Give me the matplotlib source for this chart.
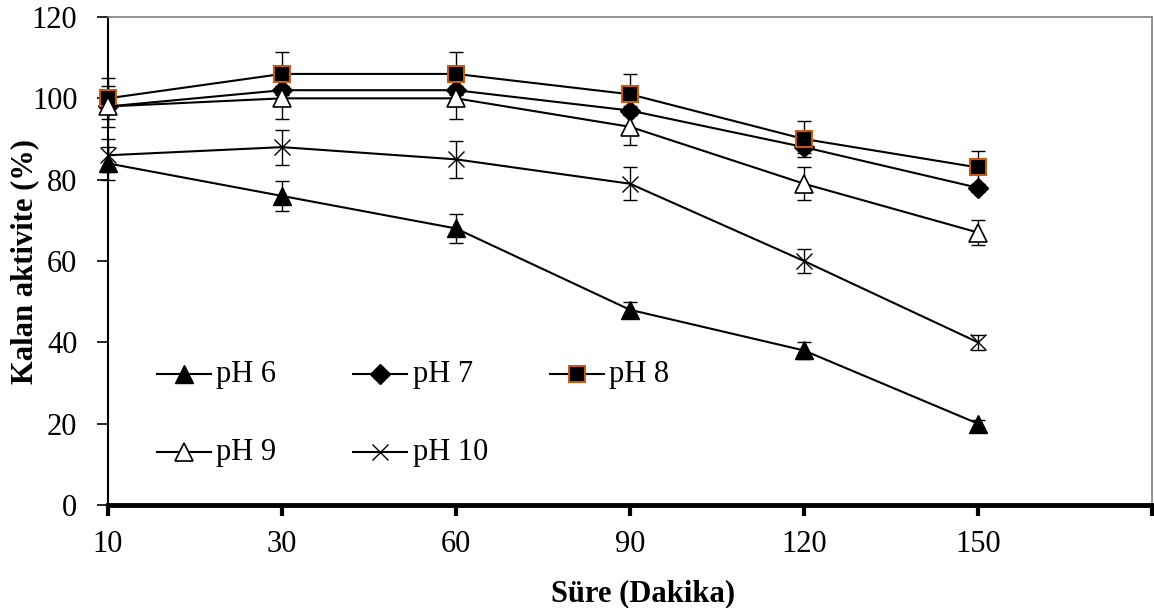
import numpy as np
import matplotlib
matplotlib.use('Agg')
import matplotlib.pyplot as plt

# -------------------------------------------------------
# Veriler
# -------------------------------------------------------
sure = ['10', '30', '60', '90', '120', '150']

ph6 = [84, 76, 68, 48, 38, 20]
ph6_err = [4, 3.7, 3.5, 2, 2, 1]

ph7 = [98, 102, 102, 97, 88, 78]
ph7_err = [1, 1, 1, 1, 1.5, 1]

ph8 = [100, 106, 106, 101, 90, 83]
ph8_err = [5, 5.3, 5.3, 5, 4.5, 4]

ph9 = [98, 100, 100, 93, 79, 67]
ph9_err = [5, 5, 5, 4.5, 4, 3]

ph10 = [86, 88, 85, 79, 60, 40]
ph10_err = [4, 4.3, 4.5, 4, 3, 1.8]

labels = ['pH 6', 'pH 7', 'pH 8', 'pH 9', 'pH 10']

# -------------------------------------------------------
# Stil
# -------------------------------------------------------
plt.rcParams['font.family'] = ['Liberation Serif', 'DejaVu Serif']
FS = 22

styles = [
    dict(marker='^', ms=13, mfc='black', mec='black', mew=1),
    dict(marker='D', ms=10, mfc='black', mec='black', mew=1),
    dict(marker='s', ms=12, mfc='black', mec='#C55A11', mew=1.5),
    dict(marker='^', ms=13, mfc='white', mec='black', mew=1.2),
    dict(marker='x', ms=12, mfc='none', mec='black', mew=1.0),
]

fig = plt.figure(figsize=(11.54, 6.08), dpi=100)
ax = fig.add_axes([108 / 1154, 1 - 505 / 608, 1044 / 1154, 488 / 608])

x = np.arange(len(sure))
series = [(ph6, ph6_err), (ph7, ph7_err), (ph8, ph8_err), (ph9, ph9_err), (ph10, ph10_err)]

for (vals, errs), st in zip(series, styles):
    ax.errorbar(x, vals, yerr=errs, fmt='none', ecolor='black', elinewidth=1.0,
                capsize=4.7, capthick=1.0, clip_on=False, zorder=2)
    ax.plot(x, vals, color='black', lw=1.5, clip_on=False, zorder=3, **st)

# Eksenler
ax.set_xlim(0, 6)
ax.set_ylim(0, 120)
ax.set_xticks(np.arange(7))
ax.set_xticklabels(sure + [''])
ax.set_yticks(np.arange(0, 121, 20))
ax.tick_params(axis='x', direction='out', length=8, width=3, labelsize=FS, pad=10)
ax.tick_params(axis='y', direction='out', length=8, width=1.2, labelsize=FS, pad=14)

ax.spines['bottom'].set_linewidth(3.5)
ax.spines['left'].set_linewidth(1.5)
for s in ['top', 'right']:
    ax.spines[s].set_linewidth(1.2)
    ax.spines[s].set_color('#7f7f7f')

ax.set_xlabel('Süre (Dakika)', fontsize=FS, fontweight='bold')
ax.xaxis.set_label_coords(0.5125, -0.152)
ax.set_ylabel('Kalan aktivite (%)', fontsize=FS, fontweight='bold')
ax.yaxis.set_label_coords(-0.066, 0.5)

# -------------------------------------------------------
# Lejant (Excel tarzı, 3 sütun)
# -------------------------------------------------------
col_x = [0.047, 0.235, 0.423]
row_y = [0.268, 0.1086]
seg = 0.0517
for i, (lab, st) in enumerate(zip(labels, styles)):
    cx = col_x[i % 3]
    cy = row_y[i // 3]
    ax.plot([cx, cx + seg], [cy, cy], color='black', lw=1.5,
            transform=ax.transAxes, clip_on=False, zorder=4)
    ax.plot([cx + seg / 2], [cy], color='black', transform=ax.transAxes,
            clip_on=False, zorder=5, **st)
    ax.text(cx + seg + 0.005, cy, lab, fontsize=FS, va='center', ha='left',
            transform=ax.transAxes)

fig.savefig('out.png', dpi=100)
